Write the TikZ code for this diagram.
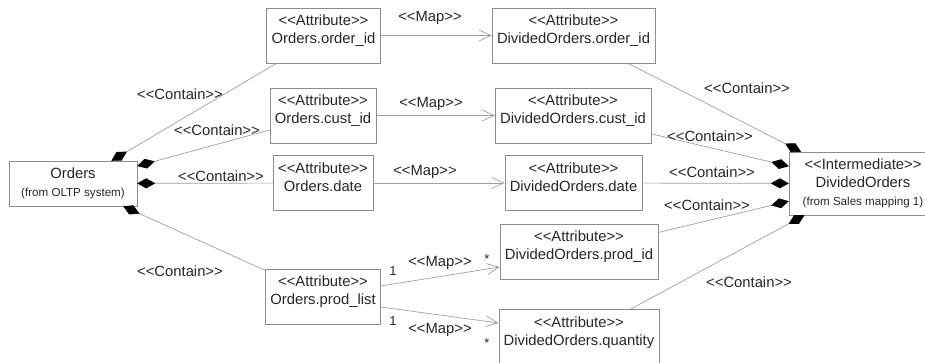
\documentclass[tikz,border=0pt]{standalone}
\usepackage{fontspec}
\setmainfont{Liberation Sans}
\usetikzlibrary{arrows.meta}
\definecolor{linegray}{gray}{0.62}
\definecolor{boxgray}{gray}{0.55}
\newcommand{\stereo}[1]{<{}<#1>{}>}
\newcommand{\smtxt}[1]{{\fontsize{11.6}{14}\selectfont #1}}
\tikzset{
    attr/.style={draw=boxgray, inner xsep=5pt, inner ysep=6.5pt, align=center,
        minimum height=55pt, text depth=12.5pt, font=\fontsize{14.8}{18}\selectfont},
    whole/.style={draw=boxgray, inner xsep=5pt, align=center, font=\fontsize{14.8}{18}\selectfont},
    lbl/.style={inner sep=0pt, font=\fontsize{14.8}{17}\selectfont},
    mult/.style={inner sep=0pt, font=\fontsize{13}{15}\selectfont},
    cont/.style={draw=linegray, line width=0.7pt, -{Diamond[length=18pt,width=10pt,color=black]}},
    mapto/.style={draw=linegray, line width=0.7pt, -{Straight Barb[length=12pt,width=11pt]}}
}
\begin{document}
\begin{tikzpicture}[x=1pt, y=-1pt, text=black!85]
    \useasboundingbox (0,0) rectangle (925,363);

    % the two whole objects
    \node[whole, minimum width=128pt, minimum height=45pt] (orders) at (73,183.5)
        {Orders\\\smtxt{(from OLTP system)}};
    \node[whole, minimum width=148pt, minimum height=63pt] (divord) at (863,183.5)
        {\stereo{Intermediate}\\DividedOrders\\\smtxt{(from Sales mapping 1)}};

    % source attributes
    \node[attr] (oid) at (323.5,35.5) {\stereo{Attribute}\\Orders.order\_id};
    \node[attr] (cid) at (323,115.5) {\stereo{Attribute}\\Orders.cust\_id};
    \node[attr] (odate) at (323,183) {\stereo{Attribute}\\Orders.date};
    \node[attr] (plist) at (323,296.5) {\stereo{Attribute}\\Orders.prod\_list};

    % target attributes
    \node[attr] (doid) at (573.5,35.5) {\stereo{Attribute}\\DividedOrders.order\_id};
    \node[attr] (docid) at (573,115.5) {\stereo{Attribute}\\DividedOrders.cust\_id};
    \node[attr] (dodate) at (573.5,183) {\stereo{Attribute}\\DividedOrders.date};
    \node[attr] (dopid) at (579,251.5) {\stereo{Attribute}\\DividedOrders.prod\_id};
    \node[attr] (doqty) at (579,337) {\stereo{Attribute}\\DividedOrders.quantity};

    % containment
    \draw[cont] (oid) -- (orders);
    \draw[cont] (cid) -- (orders);
    \draw[cont] (odate) -- (orders);
    \draw[cont] (plist) -- (orders);
    \draw[cont] (doid) -- (divord);
    \draw[cont] (docid) -- (divord);
    \draw[cont] (dodate) -- (divord);
    \draw[cont] (dopid) -- (divord);
    \draw[cont] (doqty) -- (divord);

    % mappings
    \draw[mapto] (oid) -- (doid);
    \draw[mapto] (cid) -- (docid);
    \draw[mapto] (odate) -- (dodate);
    \draw[mapto] ([yshift=10.5pt]plist.east) -- ([yshift=-15.5pt]dopid.west);
    \draw[mapto] ([yshift=-10.5pt]plist.east) -- ([yshift=14pt]doqty.west);

    % labels
    \node[lbl] (m1) at (430,18) {\stereo{Map}};
    \node[lbl] (m2) at (431,104) {\stereo{Map}};
    \node[lbl] (m3) at (425,172) {\stereo{Map}};
    \node[lbl] (m4) at (440,263) {\stereo{Map}};
    \node[lbl] (m5) at (440,330) {\stereo{Map}};

    \node[lbl] (c1) at (180,94) {\stereo{Contain}};
    \node[lbl] (c2) at (217,130) {\stereo{Contain}};
    \node[lbl] (c3) at (221,176) {\stereo{Contain}};
    \node[lbl] (c4) at (180,271) {\stereo{Contain}};
    \node[lbl] (c5) at (747,88) {\stereo{Contain}};
    \node[lbl] (c6) at (710,136) {\stereo{Contain}};
    \node[lbl] (c7) at (712,172) {\stereo{Contain}};
    \node[lbl] (c8) at (707,205) {\stereo{Contain}};
    \node[lbl] (c9) at (749,282) {\stereo{Contain}};

    \node[mult] (n1) at (393,271) {1};
    \node[mult] (n2) at (393,321) {1};
    \node[mult] (s1) at (487,259) {*};
    \node[mult] (s2) at (487,343) {*};
\end{tikzpicture}
\end{document}
